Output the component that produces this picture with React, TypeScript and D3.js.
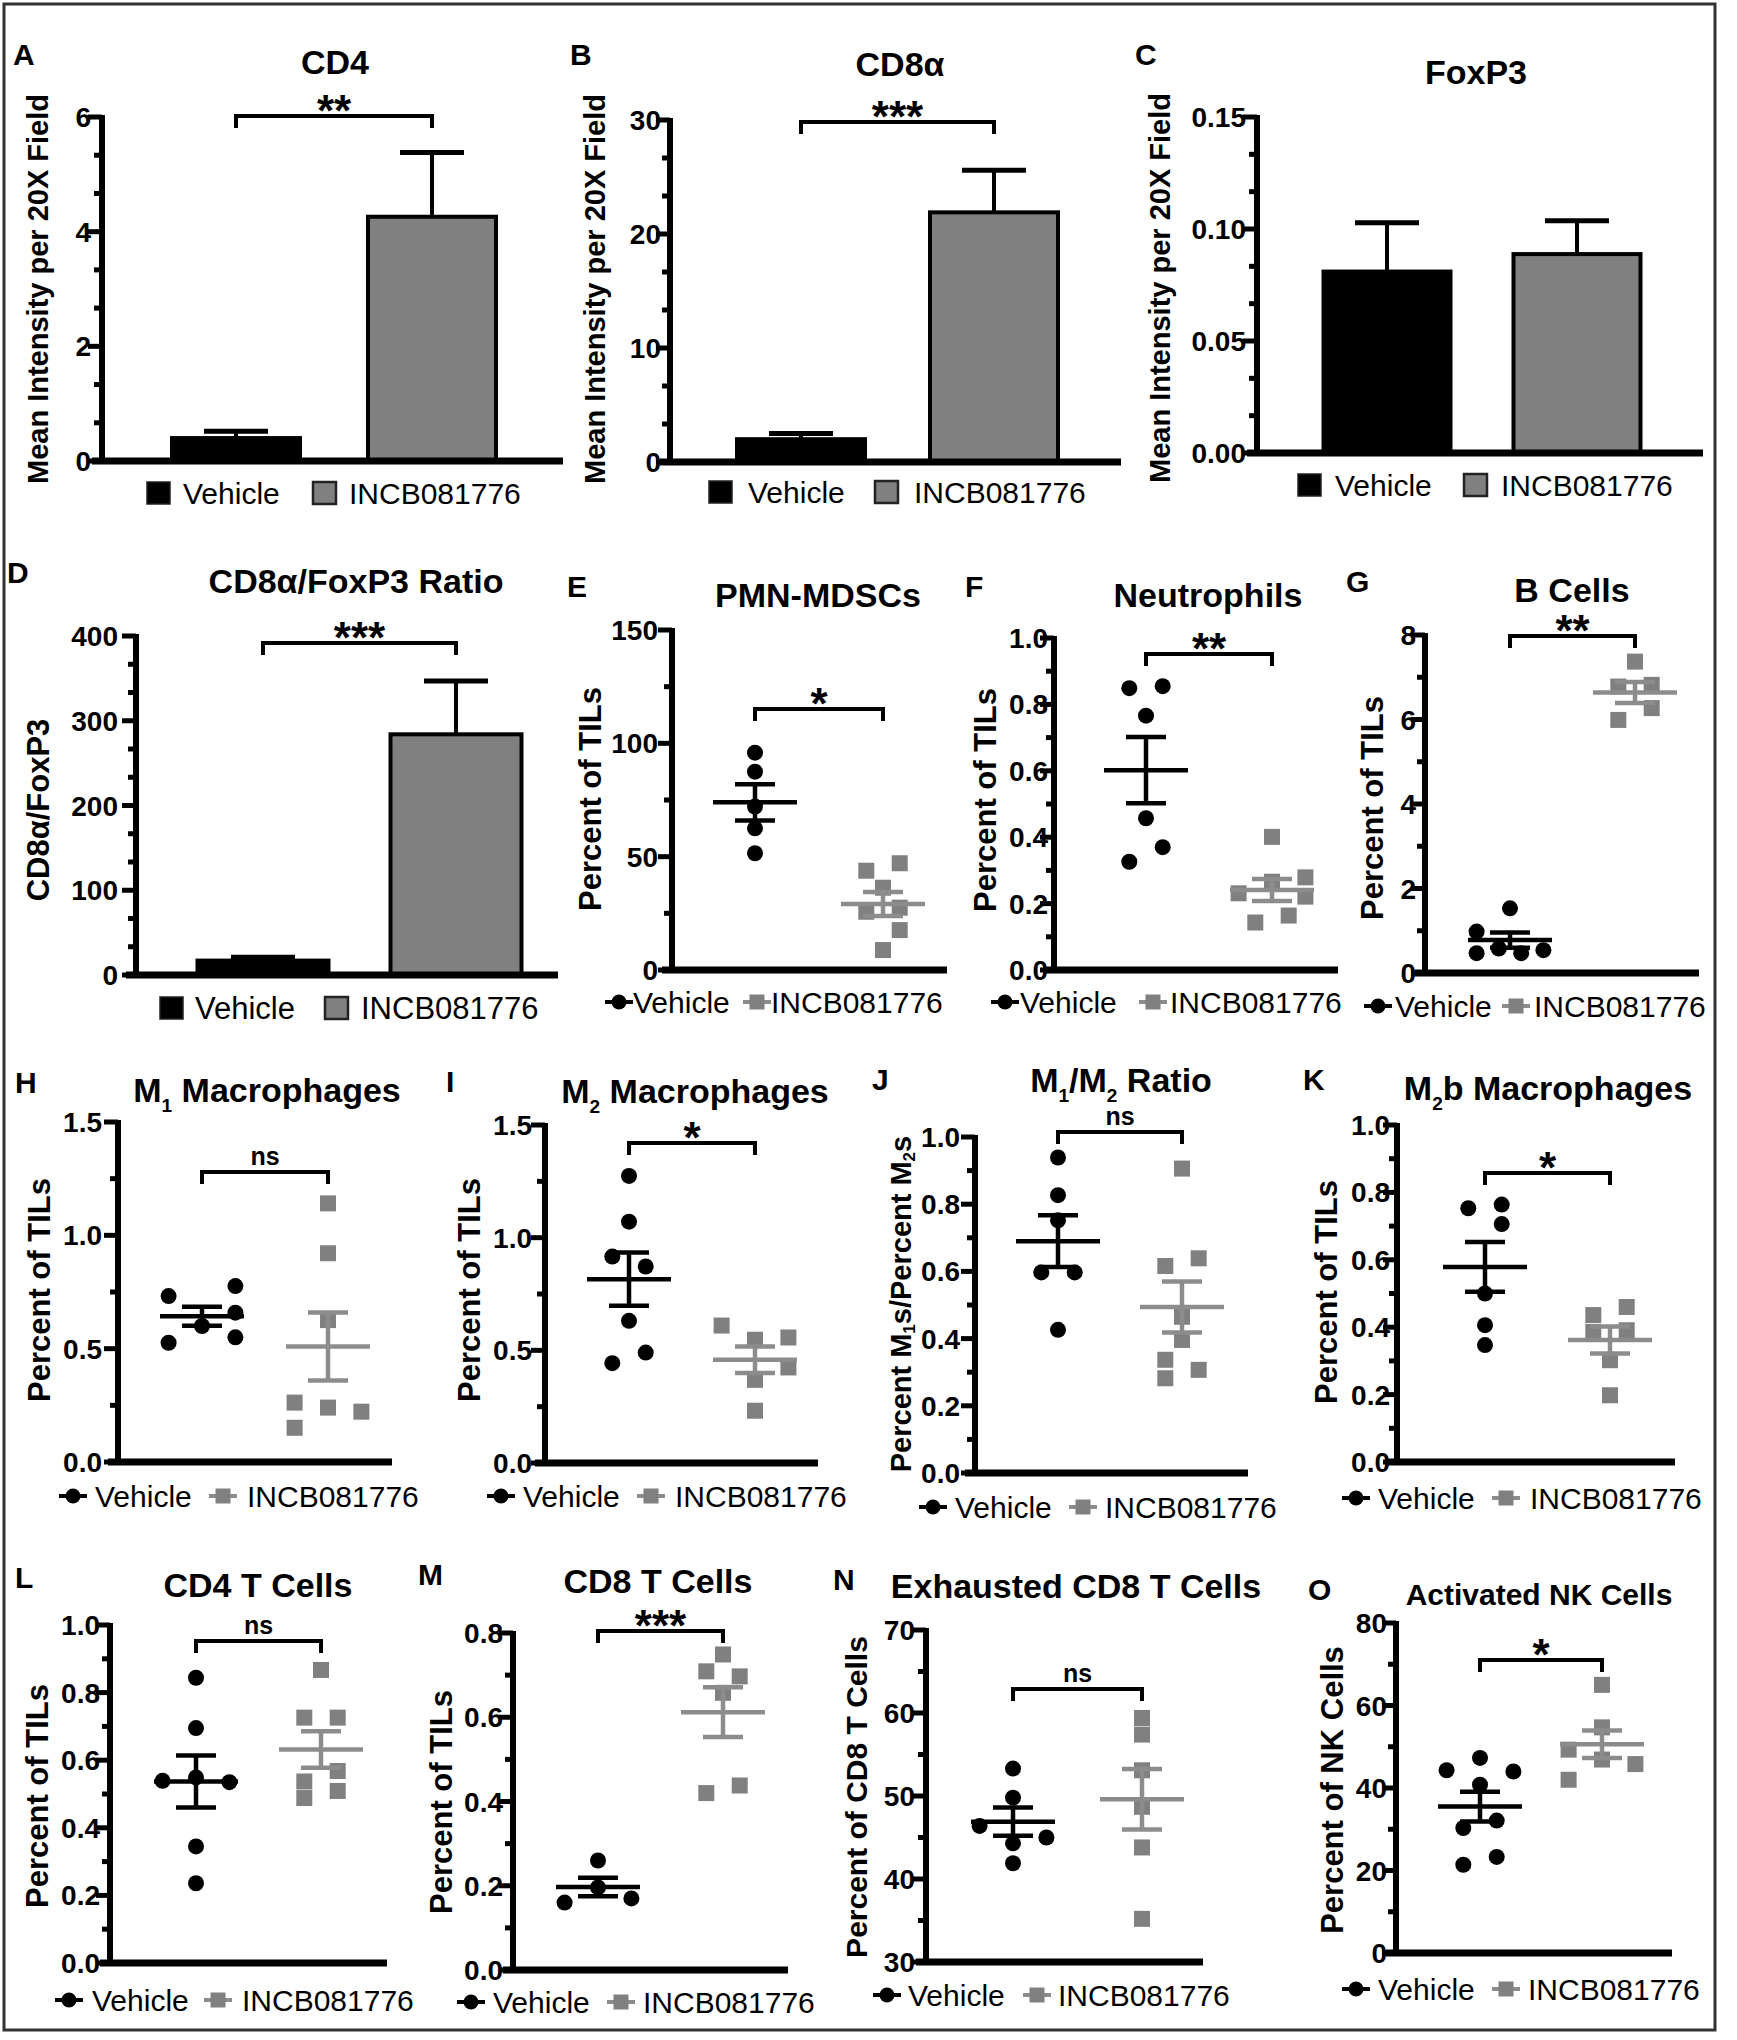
import React from 'react';
import * as d3 from 'd3';

const FONT = '"Liberation Sans", Arial, Helvetica, sans-serif';
const GROUPS = ['Vehicle', 'INCB081776'];
const GRAY = '#808080';
const GRAY_LINE = '#8c8c8c';

// ---------------- data (Vehicle, INCB081776) ----------------
const cd4Mean = [0.4, 4.26];
const cd4Sem = [0.12, 1.12];
const cd4Ticks = [0, 2, 4, 6];

const cd8aMean = [2.0, 21.9];
const cd8aSem = [0.5, 3.7];
const cd8aTicks = [0, 10, 20, 30];

const foxp3Mean = [0.081, 0.0888];
const foxp3Sem = [0.0218, 0.0149];
const foxp3Ticks = [0, 0.05, 0.1, 0.15];

const ratioMean = [17, 284];
const ratioSem = [4, 63];
const ratioTicks = [0, 100, 200, 300, 400];

const pmnVeh = [95.9, 87.5, 72.1, 62.5, 51.5];
const pmnInc = [47.1, 43.8, 36.3, 27.5, 25.7, 17.6, 8.8];
const pmnMean = [74.0, 29.1];
const pmnSem = [8.0, 5.3];
const pmnTicks = [0, 50, 100, 150];

const neuVeh = [0.855, 0.849, 0.766, 0.457, 0.37, 0.326];
const neuInc = [0.401, 0.279, 0.266, 0.231, 0.221, 0.164, 0.143];
const neuMean = [0.602, 0.241];
const neuSem = [0.1, 0.033];
const unitTicks = [0, 0.2, 0.4, 0.6, 0.8, 1.0];

const bVeh = [1.53, 0.98, 0.58, 0.54, 0.47, 0.47];
const bInc = [7.37, 6.82, 6.78, 6.27, 5.99];
const bMean = [0.78, 6.64];
const bSem = [0.18, 0.25];
const bTicks = [0, 2, 4, 6, 8];

const m1Veh = [0.776, 0.732, 0.659, 0.6, 0.55, 0.526];
const m1Inc = [1.141, 0.921, 0.626, 0.262, 0.24, 0.222, 0.151];
const m1Mean = [0.643, 0.51];
const m1Sem = [0.042, 0.15];
const halfTicks = [0, 0.5, 1.0, 1.5];

const m2Veh = [1.274, 1.071, 0.916, 0.872, 0.631, 0.49, 0.443];
const m2Inc = [0.61, 0.557, 0.547, 0.424, 0.369, 0.232];
const m2Mean = [0.816, 0.458];
const m2Sem = [0.118, 0.059];

const m12Veh = [0.939, 0.827, 0.752, 0.597, 0.597, 0.426];
const m12Inc = [0.906, 0.639, 0.616, 0.465, 0.396, 0.337, 0.307, 0.282];
const m12Mean = [0.69, 0.494];
const m12Sem = [0.077, 0.076];

const m2bVeh = [0.764, 0.753, 0.706, 0.5, 0.406, 0.347];
const m2bInc = [0.46, 0.436, 0.391, 0.386, 0.302, 0.198];
const m2bMean = [0.579, 0.362];
const m2bSem = [0.074, 0.04];

const cd4tVeh = [0.844, 0.695, 0.549, 0.539, 0.535, 0.345, 0.236];
const cd4tInc = [0.867, 0.726, 0.726, 0.568, 0.537, 0.509, 0.488];
const cd4tMean = [0.537, 0.632];
const cd4tSem = [0.077, 0.054];

const cd8tVeh = [0.26, 0.196, 0.17, 0.16];
const cd8tInc = [0.749, 0.709, 0.697, 0.658, 0.438, 0.42];
const cd8tMean = [0.197, 0.612];
const cd8tSem = [0.022, 0.059];
const cd8tTicks = [0, 0.2, 0.4, 0.6, 0.8];

const exhVeh = [53.3, 49.8, 46.4, 45.0, 44.3, 41.9];
const exhInc = [59.4, 57.4, 53.1, 48.7, 43.8, 35.2];
const exhMean = [46.9, 49.6];
const exhSem = [1.7, 3.65];
const exhTicks = [30, 40, 50, 60, 70];

const nkVeh = [47.3, 44.3, 44.0, 40.8, 32.1, 30.3, 23.3, 21.4];
const nkInc = [65.0, 54.7, 49.3, 46.9, 45.8, 42.0];
const nkMean = [35.5, 50.6];
const nkSem = [3.6, 3.35];
const nkTicks = [0, 20, 40, 60, 80];

// ---------------- helpers ----------------
const f0 = (v: number) => d3.format('d')(v);
const f1 = (v: number) => d3.format('.1f')(v);
const f2 = (v: number) => d3.format('.2f')(v);

// segments: strings are normal text, [s] arrays are subscripts
function Rich({ segs, subSize, subDy }: any) {
  let shift = 0;
  const out: any[] = [];
  segs.forEach((s: any, i: number) => {
    if (Array.isArray(s)) {
      const dy = subDy - shift;
      shift = subDy;
      out.push(<tspan key={i} fontSize={subSize} dy={dy}>{s[0]}</tspan>);
    } else {
      const dy = -shift;
      shift = 0;
      out.push(<tspan key={i} dy={dy}>{s}</tspan>);
    }
  });
  return <>{out}</>;
}

function YAxis({ p, y }: any) {
  const ticks: number[] = p.ticks;
  const step = ticks[1] - ticks[0];
  const mstep = step / (p.minor + 1);
  const minors: number[] = [];
  for (let i = 0; i < ticks.length - 1; i++)
    for (let k = 1; k <= p.minor; k++) minors.push(ticks[i] + k * mstep);
  return (
    <g>
      <line x1={p.axisX} x2={p.axisX} y1={p.yTop - 2} y2={p.yBot} stroke="#000" strokeWidth={6} />
      {ticks.map((t) => (
        <line key={'t' + t} x1={p.axisX - 14} x2={p.axisX} y1={y(t)} y2={y(t)} stroke="#000" strokeWidth={5} />
      ))}
      {minors.map((t, i) => (
        <line key={'m' + i} x1={p.axisX - 8} x2={p.axisX} y1={y(t)} y2={y(t)} stroke="#000" strokeWidth={5} />
      ))}
      {ticks.map((t) => (
        <text key={'l' + t} x={p.axisX - p.tickGap} y={y(t)} dy="0.36em" textAnchor="end"
          fontSize={p.tickSize || 28} fontWeight="bold">{p.fmt(t)}</text>
      ))}
    </g>
  );
}

function Common({ p }: any) {
  const title = typeof p.titleText === 'string' ? p.titleText : <Rich segs={p.titleText} subSize={19} subDy={10} />;
  const ylab = typeof p.yLabText === 'string' ? p.yLabText : <Rich segs={p.yLabText} subSize={17} subDy={8} />;
  return (
    <g>
      <text x={p.letter[0]} y={p.letter[1]} fontSize={30} fontWeight="bold">{p.id}</text>
      <text x={p.title[0]} y={p.title[1]} textAnchor="middle" fontSize={p.titleSize || 34} fontWeight="bold">{title}</text>
      <text transform={`translate(${p.yLab[0]},${p.yLab[1]}) rotate(-90)`} textAnchor="middle"
        dominantBaseline="central" fontSize={p.yLabSize || 31} fontWeight="bold">{ylab}</text>
    </g>
  );
}

function Bracket({ p, x }: any) {
  if (!p.sig) return null;
  const x0 = x(GROUPS[0]);
  const x1 = x(GROUPS[1]);
  const by = p.bracketY;
  const isNs = p.sig === 'ns';
  return (
    <g>
      <path d={`M${x0},${by + 12}V${by}H${x1}V${by + 12}`} fill="none" stroke="#000" strokeWidth={4} />
      <text x={(x0 + x1) / 2} y={isNs ? by - 7 : by + 10} textAnchor="middle"
        fontSize={isNs ? 25 : 44} fontWeight="bold">{p.sig}</text>
    </g>
  );
}

function BarPanel({ p }: any) {
  const y = d3.scaleLinear().domain(p.domain).range([p.yBot, p.yTop]);
  const x = d3.scalePoint<string>().domain(GROUPS).range(p.centers);
  const L = p.legend;
  return (
    <g>
      <Common p={p} />
      {GROUPS.map((g, i) => {
        const cx = x(g)!;
        const top = y(p.mean[i]);
        const et = y(p.mean[i] + p.sem[i]);
        return (
          <g key={g}>
            <line x1={cx} x2={cx} y1={top} y2={et} stroke="#000" strokeWidth={4} />
            <line x1={cx - 32} x2={cx + 32} y1={et} y2={et} stroke="#000" strokeWidth={5} />
            <rect x={cx - p.barW / 2} y={top} width={p.barW} height={p.yBot - top}
              fill={i === 0 ? '#000' : GRAY} stroke="#000" strokeWidth={4} />
          </g>
        );
      })}
      <YAxis p={p} y={y} />
      <line x1={p.axisX - 10} x2={p.xEnd} y1={p.yBot} y2={p.yBot} stroke="#000" strokeWidth={7} />
      <Bracket p={p} x={x} />
      <g>
        <rect x={L.v} y={L.y - 11} width={23} height={22} fill="#000" stroke="#222" strokeWidth={1.5} />
        <text x={L.vt} y={L.y + 11} fontSize={L.size || 30}>{GROUPS[0]}</text>
        <rect x={L.g} y={L.y - 11} width={23} height={22} fill={GRAY} stroke="#222" strokeWidth={2.5} />
        <text x={L.gt} y={L.y + 11} fontSize={L.size || 30}>{GROUPS[1]}</text>
      </g>
    </g>
  );
}

const SLOT = 16.7;

function ScatterPanel({ p }: any) {
  const y = d3.scaleLinear().domain(p.domain).range([p.yBot, p.yTop]);
  const x = d3.scalePoint<string>().domain(GROUPS).range(p.centers);
  const L = p.legend;
  const cv = x(GROUPS[0])!;
  const ci = x(GROUPS[1])!;
  const sq = 16;
  const meanBar = (cx: number, i: number, col: string) => {
    const m = y(p.mean[i]);
    const hi = y(p.mean[i] + p.sem[i]);
    const lo = y(p.mean[i] - p.sem[i]);
    return (
      <g stroke={col} strokeWidth={4.5}>
        <line x1={cx - 42} x2={cx + 42} y1={m} y2={m} />
        <line x1={cx} x2={cx} y1={hi} y2={lo} />
        <line x1={cx - 20} x2={cx + 20} y1={hi} y2={hi} />
        <line x1={cx - 20} x2={cx + 20} y1={lo} y2={lo} />
      </g>
    );
  };
  return (
    <g>
      <Common p={p} />
      {p.veh.map((v: number, k: number) => (
        <circle key={'v' + k} cx={cv + p.vSlots[k] * SLOT} cy={y(v)} r={8} fill="#000" />
      ))}
      {p.inc.map((v: number, k: number) => (
        <rect key={'i' + k} x={ci + p.iSlots[k] * SLOT - sq / 2} y={y(v) - sq / 2} width={sq} height={sq} fill={GRAY} />
      ))}
      {meanBar(cv, 0, '#000')}
      {meanBar(ci, 1, GRAY_LINE)}
      <YAxis p={p} y={y} />
      <line x1={p.axisX - 10} x2={p.xEnd} y1={p.yBot} y2={p.yBot} stroke="#000" strokeWidth={7} />
      <Bracket p={p} x={x} />
      <g>
        <line x1={L.v - 14} x2={L.v + 14} y1={L.y} y2={L.y} stroke="#000" strokeWidth={4} />
        <circle cx={L.v} cy={L.y} r={7.5} fill="#000" />
        <text x={L.vt} y={L.y + 11} fontSize={30}>{GROUPS[0]}</text>
        <line x1={L.g - 14} x2={L.g + 14} y1={L.y} y2={L.y} stroke={GRAY_LINE} strokeWidth={4} />
        <rect x={L.g - 7.5} y={L.y - 7.5} width={15} height={15} fill={GRAY} />
        <text x={L.gt} y={L.y + 11} fontSize={30}>{GROUPS[1]}</text>
      </g>
    </g>
  );
}

// ---------------- panel layouts ----------------
const MI = 'Mean Intensity per 20X Field';
const PT = 'Percent of TILs';

const barPanels = [
  {
    id: 'A', titleText: 'CD4', mean: cd4Mean, sem: cd4Sem, ticks: cd4Ticks, domain: [0, 6], minor: 2, fmt: f0,
    axisX: 102, yTop: 117, yBot: 461, xEnd: 563, centers: [236, 432], barW: 128, tickGap: 11,
    letter: [13, 65], title: [335, 74], yLab: [38, 289], yLabText: MI, yLabSize: 29, sig: '**', bracketY: 116,
    legend: { y: 493, v: 147, vt: 183, g: 313, gt: 349 },
  },
  {
    id: 'B', titleText: 'CD8\u03B1', mean: cd8aMean, sem: cd8aSem, ticks: cd8aTicks, domain: [0, 30], minor: 2, fmt: f0,
    axisX: 670, yTop: 120, yBot: 462, xEnd: 1121, centers: [801, 994], barW: 128, tickGap: 9,
    letter: [570, 65], title: [900, 76], yLab: [595, 289], yLabText: MI, yLabSize: 29, sig: '***', bracketY: 122,
    legend: { y: 492, v: 709, vt: 748, g: 875, gt: 914 },
  },
  {
    id: 'C', titleText: 'FoxP3', mean: foxp3Mean, sem: foxp3Sem, ticks: foxp3Ticks, domain: [0, 0.15], minor: 2, fmt: f2,
    axisX: 1257, yTop: 117, yBot: 453, xEnd: 1703, centers: [1387, 1577], barW: 127, tickGap: 11,
    letter: [1135, 65], title: [1476, 84], yLab: [1160, 288], yLabText: MI, yLabSize: 29, sig: '', bracketY: 0,
    legend: { y: 485, v: 1298, vt: 1335, g: 1464, gt: 1501 },
  },
  {
    id: 'D', titleText: 'CD8\u03B1/FoxP3 Ratio', mean: ratioMean, sem: ratioSem, ticks: ratioTicks, domain: [0, 400], minor: 2, fmt: f0,
    axisX: 136, yTop: 636, yBot: 975, xEnd: 558, centers: [263, 456], barW: 131, tickGap: 18,
    letter: [7, 583], title: [356, 593], yLab: [38, 810], yLabText: 'CD8\u03B1/FoxP3', yLabSize: 31, sig: '***', bracketY: 643,
    legend: { y: 1008, v: 160, vt: 195, g: 325, gt: 361, size: 31 },
  },
];

const scatterPanels = [
  {
    id: 'E', titleText: 'PMN-MDSCs', ticks: pmnTicks, domain: [0, 150], minor: 1, fmt: f0,
    veh: pmnVeh, inc: pmnInc, mean: pmnMean, sem: pmnSem,
    vSlots: [0, 0, 0, 0, 0], iSlots: [1, -1, 0, 1, -1, 1, 0],
    axisX: 672, yTop: 630, yBot: 970, xEnd: 947, centers: [755, 883], tickGap: 14,
    letter: [567, 597], title: [818, 607], yLab: [590, 799], yLabText: PT, sig: '*', bracketY: 709,
    legend: { y: 1002, v: 619, vt: 633, g: 757, gt: 771 },
  },
  {
    id: 'F', titleText: 'Neutrophils', ticks: unitTicks, domain: [0, 1], minor: 1, fmt: f1,
    veh: neuVeh, inc: neuInc, mean: neuMean, sem: neuSem,
    vSlots: [1, -1, 0, 0, 1, -1], iSlots: [0, 2, 0, -2, 2, 1, -1],
    axisX: 1054, yTop: 638, yBot: 970, xEnd: 1338, centers: [1146, 1272], tickGap: 6,
    letter: [965, 597], title: [1208, 607], yLab: [985, 800], yLabText: PT, sig: '**', bracketY: 654,
    legend: { y: 1002, v: 1005, vt: 1020, g: 1153, gt: 1170 },
  },
  {
    id: 'G', titleText: 'B Cells', ticks: bTicks, domain: [0, 8], minor: 1, fmt: f0,
    veh: bVeh, inc: bInc, mean: bMean, sem: bSem,
    vSlots: [0, -2, -0.67, 2, -2, 0.67], iSlots: [0, 1, -1, 1, -1],
    axisX: 1425, yTop: 635, yBot: 973, xEnd: 1699, centers: [1510, 1635], tickGap: 9,
    letter: [1346, 592], title: [1572, 602], yLab: [1372, 808], yLabText: PT, sig: '**', bracketY: 636,
    legend: { y: 1006, v: 1378, vt: 1395, g: 1516, gt: 1534 },
  },
  {
    id: 'H', titleText: ['M', ['1'], ' Macrophages'], ticks: halfTicks, domain: [0, 1.5], minor: 1, fmt: f1,
    veh: m1Veh, inc: m1Inc, mean: m1Mean, sem: m1Sem,
    vSlots: [2, -2, 2, 0, 2, -2], iSlots: [0, 0, 0, -2, 0, 2, -2],
    axisX: 118, yTop: 1122, yBot: 1462, xEnd: 392, centers: [202, 328], tickGap: 16,
    letter: [15, 1093], title: [267, 1102], yLab: [39, 1290], yLabText: PT, sig: 'ns', bracketY: 1172,
    legend: { y: 1496, v: 73, vt: 95, g: 223, gt: 247 },
  },
  {
    id: 'I', titleText: ['M', ['2'], ' Macrophages'], ticks: halfTicks, domain: [0, 1.5], minor: 1, fmt: f1,
    veh: m2Veh, inc: m2Inc, mean: m2Mean, sem: m2Sem,
    vSlots: [0, 0, -1, 1, 0, 1, -1], iSlots: [-2, 2, 0, 2, 0, 0],
    axisX: 545, yTop: 1125, yBot: 1463, xEnd: 818, centers: [629, 755], tickGap: 13,
    letter: [446, 1092], title: [695, 1103], yLab: [469, 1290], yLabText: PT, sig: '*', bracketY: 1143,
    legend: { y: 1496, v: 501, vt: 523, g: 651, gt: 675 },
  },
  {
    id: 'J', titleText: ['M', ['1'], '/M', ['2'], ' Ratio'], ticks: unitTicks, domain: [0, 1], minor: 1, fmt: f1,
    veh: m12Veh, inc: m12Inc, mean: m12Mean, sem: m12Sem,
    vSlots: [0, 0, 0, -1, 1, 0], iSlots: [0, 1, -1, 0, 0, -1, 1, -1],
    axisX: 975, yTop: 1137, yBot: 1473, xEnd: 1248, centers: [1058, 1182], tickGap: 15,
    letter: [872, 1090], title: [1121, 1092], yLab: [901, 1304],
    yLabText: ['Percent M', ['1'], 's/Percent M', ['2'], 's'], yLabSize: 29,
    sig: 'ns', bracketY: 1132,
    legend: { y: 1507, v: 933, vt: 955, g: 1083, gt: 1105 },
  },
  {
    id: 'K', titleText: ['M', ['2'], 'b Macrophages'], ticks: unitTicks, domain: [0, 1], minor: 1, fmt: f1,
    veh: m2bVeh, inc: m2bInc, mean: m2bMean, sem: m2bSem,
    vSlots: [1, -1, 1, 0, 0, 0], iSlots: [1, -1, 1, -1, 0, 0],
    axisX: 1397, yTop: 1125, yBot: 1462, xEnd: 1675, centers: [1485, 1610], tickGap: 7,
    letter: [1303, 1090], title: [1548, 1100], yLab: [1326, 1292], yLabText: PT, sig: '*', bracketY: 1173,
    legend: { y: 1498, v: 1356, vt: 1378, g: 1506, gt: 1530 },
  },
  {
    id: 'L', titleText: 'CD4 T Cells', ticks: unitTicks, domain: [0, 1], minor: 1, fmt: f1,
    veh: cd4tVeh, inc: cd4tInc, mean: cd4tMean, sem: cd4tSem,
    vSlots: [0, 0, 0, -2, 2, 0, 0], iSlots: [0, -1, 1, 1, -1, 1, -1],
    axisX: 110, yTop: 1625, yBot: 1963, xEnd: 387, centers: [196, 321], tickGap: 10,
    letter: [15, 1588], title: [258, 1597], yLab: [37, 1796], yLabText: PT, sig: 'ns', bracketY: 1641,
    legend: { y: 2000, v: 69, vt: 92, g: 218, gt: 242 },
  },
  {
    id: 'M', titleText: 'CD8 T Cells', ticks: cd8tTicks, domain: [0, 0.8], minor: 1, fmt: f1,
    veh: cd8tVeh, inc: cd8tInc, mean: cd8tMean, sem: cd8tSem,
    vSlots: [0, 0, 2, -2], iSlots: [0, -1, 1, 0, 1, -1],
    axisX: 513, yTop: 1633, yBot: 1970, xEnd: 788, centers: [598, 723], tickGap: 10,
    letter: [418, 1585], title: [658, 1593], yLab: [441, 1802], yLabText: PT, sig: '***', bracketY: 1631,
    legend: { y: 2002, v: 471, vt: 493, g: 621, gt: 643 },
  },
  {
    id: 'N', titleText: 'Exhausted CD8 T Cells', ticks: exhTicks, domain: [30, 70], minor: 1, fmt: f0,
    veh: exhVeh, inc: exhInc, mean: exhMean, sem: exhSem,
    vSlots: [0, 0, -2, 2, 0, 0], iSlots: [0, 0, 0, 0, 0, 0],
    axisX: 926, yTop: 1630, yBot: 1962, xEnd: 1203, centers: [1013, 1142], tickGap: 11,
    letter: [833, 1590], title: [1076, 1598], yLab: [856, 1797], yLabText: 'Percent of CD8 T Cells', yLabSize: 30,
    sig: 'ns', bracketY: 1689,
    legend: { y: 1995, v: 887, vt: 908, g: 1037, gt: 1058 },
  },
  {
    id: 'O', titleText: 'Activated NK Cells', ticks: nkTicks, domain: [0, 80], minor: 1, fmt: f0, titleSize: 30,
    veh: nkVeh, inc: nkInc, mean: nkMean, sem: nkSem,
    vSlots: [0, -2, 2, 0, 1, -1, 1, -1], iSlots: [0, 0, -2, 0, 2, -2],
    axisX: 1396, yTop: 1623, yBot: 1953, xEnd: 1672, centers: [1480, 1602], tickGap: 9,
    letter: [1308, 1600], title: [1539, 1605], yLab: [1332, 1790], yLabText: 'Percent of NK Cells', sig: '*', bracketY: 1660,
    legend: { y: 1989, v: 1356, vt: 1378, g: 1506, gt: 1528 },
  },
];

export default function App() {
  return (
    <div style={{ position: 'absolute', left: 0, top: 0 }}>
      <style>{'body{margin:0;background:#fff}'}</style>
      <svg width={1737} height={2040} viewBox="0 0 1737 2040" fontFamily={FONT}
        style={{ display: 'block', background: '#fff' }}>
        <rect x={0} y={0} width={1737} height={2040} fill="#fff" />
        <rect x={4} y={4} width={1711} height={2026} fill="none" stroke="#333" strokeWidth={3} />
        {barPanels.map((p) => <BarPanel key={p.id} p={p} />)}
        {scatterPanels.map((p) => <ScatterPanel key={p.id} p={p} />)}
      </svg>
    </div>
  );
}
